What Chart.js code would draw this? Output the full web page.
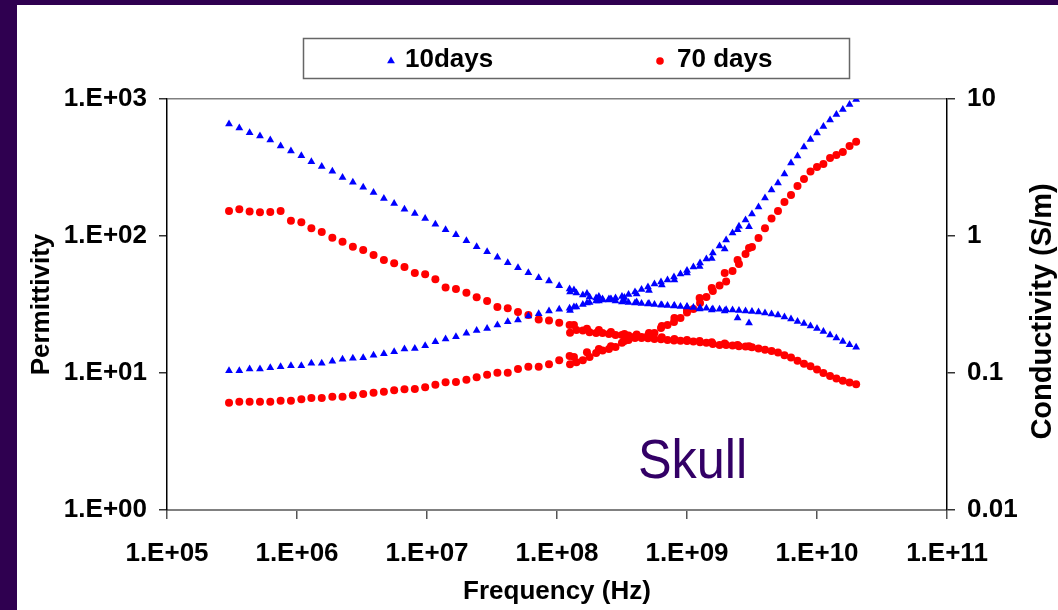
<!DOCTYPE html>
<html><head><meta charset="utf-8">
<script src="https://cdn.jsdelivr.net/npm/chart.js@4.4.0/dist/chart.umd.min.js"></script>
<style>html,body{margin:0;padding:0;background:#2f0050;overflow:hidden}#wrap{width:1058px;height:610px}</style>
</head><body><div id="wrap"><canvas id="c" width="1058" height="610"></canvas></div>
<script>
// ---- tick labels ----
const xTickValues = [1e5, 1e6, 1e7, 1e8, 1e9, 1e10, 1e11];
const xTickLabels = ['1.E+05', '1.E+06', '1.E+07', '1.E+08', '1.E+09', '1.E+10', '1.E+11'];
const permTickValues = [1, 10, 100, 1000];
const permTickLabels = ['1.E+00', '1.E+01', '1.E+02', '1.E+03'];
const condTickValues = [0.01, 0.1, 1, 10];
const condTickLabels = ['0.01', '0.1', '1', '10'];
const seriesNames = ['10days', '70 days'];

// ---- frequencies (Hz) ----
const freqLow = [3.0e5, 3.6e5, 4.32e5, 5.19e5, 6.23e5, 7.48e5, 8.98e5, 1.08e6, 1.29e6, 1.55e6, 1.87e6, 2.24e6,
  2.69e6, 3.23e6, 3.88e6, 4.66e6, 5.59e6, 6.71e6, 8.06e6, 9.68e6, 1.16e7, 1.39e7, 1.67e7, 2.01e7, 2.41e7,
  2.90e7, 3.48e7, 4.18e7, 5.01e7, 6.02e7, 7.23e7, 8.68e7, 1.04e8, 1.25e8];
const freqHigh = [1.26e8, 1.41e8, 1.58e8, 1.78e8, 2.0e8, 2.24e8, 2.51e8, 2.82e8, 3.16e8, 3.55e8, 3.98e8, 4.47e8,
  5.01e8, 5.62e8, 6.31e8, 7.08e8, 7.94e8, 8.91e8, 1.0e9, 1.12e9, 1.26e9, 1.41e9, 1.58e9, 1.78e9, 2.0e9, 2.24e9,
  2.51e9, 2.82e9, 3.16e9, 3.55e9, 3.98e9, 4.47e9, 5.01e9, 5.62e9, 6.31e9, 7.08e9, 7.94e9, 8.91e9, 1.0e10,
  1.12e10, 1.26e10, 1.41e10, 1.58e10, 1.78e10, 2.0e10];
const freqB = [1.35e8, 1.7e8, 2.1e8, 2.6e8, 3.3e8, 4.1e8, 5.1e8, 6.4e8, 8.0e8, 1.0e9, 1.25e9, 1.55e9, 1.95e9, 2.45e9, 3.0e9];

// ---- 10 days ----
const perm10Low = [657, 614, 568, 537, 502, 454, 417, 386, 349, 321, 297, 267, 247, 227, 208, 188, 173, 157, 146,
  134, 122, 111, 102, 92.4, 83.6, 76.8, 69.9, 63.8, 58.7, 54.0, 49.6, 46.9, 43.4, 41.0];
const perm10High = [39.0, 38.4, 37.1, 35.9, 35.3, 34.7, 34.1, 33.5, 33.0, 32.7, 32.4, 32.2, 31.9, 31.6, 31.4, 31.1,
  30.8, 30.6, 30.3, 30.1, 29.8, 29.7, 29.3, 29.2, 29.0, 28.8, 28.6, 28.4, 28.1, 27.9, 27.4, 27.0, 26.5, 25.6,
  24.8, 23.8, 23.0, 22.0, 21.1, 20.1, 18.9, 18.0, 17.0, 16.1, 15.4];
const perm10B = [40.3, 38.0, 36.2, 34.7, 33.5, 33.0, 32.2, 31.4, 31.1, 30.6, 29.3, 28.8, 28.4, 25.2, 23.2];
const cond10Low = [0.104, 0.104, 0.107, 0.107, 0.109, 0.111, 0.113, 0.113, 0.118, 0.118, 0.122, 0.126, 0.128,
  0.129, 0.135, 0.138, 0.143, 0.150, 0.151, 0.158, 0.169, 0.177, 0.184, 0.195, 0.204, 0.211, 0.224, 0.237,
  0.244, 0.261, 0.271, 0.284, 0.292, 0.297];
const cond10High = [0.286, 0.303, 0.316, 0.327, 0.335, 0.341, 0.347, 0.353, 0.362, 0.374, 0.390, 0.407, 0.424,
  0.446, 0.462, 0.477, 0.502, 0.528, 0.560, 0.594, 0.635, 0.679, 0.751, 0.846, 0.935, 1.05, 1.18, 1.31, 1.45,
  1.63, 1.89, 2.17, 2.44, 2.84, 3.41, 3.84, 4.46, 5.06, 5.65, 6.30, 7.03, 7.71, 8.38, 9.12, 9.91];
const cond10B = [0.303, 0.324, 0.335, 0.344, 0.356, 0.377, 0.400, 0.439, 0.477, 0.537, 0.599, 0.685, 0.804, 1.11, 1.17];

// ---- 70 days ----
const perm70Low = [152, 157, 151, 149, 150, 152, 129, 126, 114, 107, 97.2, 90.9, 83.6, 79.1, 72.6, 66.8, 63.2,
  59.4, 53.7, 52.5, 48.3, 42.0, 41.0, 38.6, 35.7, 33.5, 30.3, 29.7, 27.9, 26.5, 24.6, 24.2, 23.3, 22.4];
const perm70High = [19.7, 20.6, 20.4, 19.8, 19.6, 19.6, 19.3, 18.9, 18.9, 18.8, 18.5, 18.0, 17.9, 17.7, 17.6, 17.4,
  17.3, 17.2, 17.1, 17.0, 16.8, 16.6, 16.3, 16.0, 16.0, 15.9, 15.7, 15.6, 15.4, 15.1, 14.8, 14.5, 14.1, 13.5,
  13.0, 12.3, 11.7, 11.2, 10.6, 10.0, 9.51, 9.12, 8.79, 8.53, 8.27];
const perm70B = [22.4, 21.0, 20.6, 19.9, 19.3, 19.1, 18.6, 18.2, 17.7, 17.4, 17.1, 16.8, 16.4, 16.0, 15.7];
const cond70Low = [0.0607, 0.0618, 0.0618, 0.0618, 0.0618, 0.0628, 0.0628, 0.0643, 0.0657, 0.0657, 0.0671, 0.0671,
  0.0687, 0.0703, 0.0718, 0.0730, 0.0747, 0.0760, 0.0764, 0.0787, 0.0822, 0.0855, 0.0859, 0.0893, 0.0930,
  0.0972, 0.1005, 0.1005, 0.107, 0.111, 0.111, 0.116, 0.124, 0.133];
const cond70High = [0.116, 0.120, 0.124, 0.131, 0.140, 0.146, 0.150, 0.155, 0.166, 0.174, 0.180, 0.183, 0.188,
  0.196, 0.213, 0.224, 0.236, 0.252, 0.277, 0.293, 0.324, 0.359, 0.397, 0.435, 0.466, 0.556, 0.625, 0.739,
  0.831, 0.967, 1.14, 1.34, 1.52, 1.77, 1.99, 2.32, 2.61, 2.96, 3.19, 3.35, 3.71, 3.90, 4.10, 4.54, 4.88];
const cond70B = [0.131, 0.142, 0.150, 0.157, 0.171, 0.186, 0.196, 0.220, 0.252, 0.288, 0.353, 0.417, 0.537, 0.668, 0.817];

function pts(f, v) { return f.map((x, i) => ({ x: x, y: v[i] })); }
const BLUE = '#0000ff', RED = '#ff0000', PURPLE = '#2f0050';
const FONT = "'Liberation Sans', Arial, sans-serif";
Chart.defaults.font.family = FONT;

function ds(label, data, axis, color, style, r) {
  return { label: label, data: data, yAxisID: axis, pointStyle: style, pointRadius: r, pointHoverRadius: r,
    backgroundColor: color, borderColor: color, borderWidth: 0, showLine: false };
}
const datasets = [
  ds(seriesNames[0], pts(freqLow, perm10Low).concat(pts(freqHigh, perm10High), pts(freqB, perm10B)), 'y', BLUE, 'triangle', 4.5),
  ds(seriesNames[0], pts(freqLow, cond10Low).concat(pts(freqHigh, cond10High), pts(freqB, cond10B)), 'y2', BLUE, 'triangle', 4.5),
  ds(seriesNames[1], pts(freqLow, perm70Low).concat(pts(freqHigh, perm70High), pts(freqB, perm70B)), 'y', RED, 'circle', 4),
  ds(seriesNames[1], pts(freqLow, cond70Low).concat(pts(freqHigh, cond70High), pts(freqB, cond70B)), 'y2', RED, 'circle', 4)
];

const tickFont = { size: 26, weight: 'bold', family: FONT };

const decor = {
  id: 'decor',
  beforeDraw(chart) {
    const c = chart.ctx;
    c.save();
    c.fillStyle = PURPLE; c.fillRect(0, 0, chart.width, chart.height);
    c.fillStyle = '#ffffff'; c.fillRect(17, 5, chart.width - 17, chart.height - 5);
    c.restore();
  },
  afterDraw(chart) {
    const c = chart.ctx, a = chart.chartArea;
    c.save();
    // legend box
    c.strokeStyle = '#666'; c.lineWidth = 1.5;
    c.strokeRect(303.5, 38.5, 546, 40);
    const items = [{ d: datasets[0], mx: 391, tx: 405 }, { d: datasets[2], mx: 660, tx: 677 }];
    items.forEach(it => {
      c.fillStyle = it.d.backgroundColor;
      Chart.helpers.drawPoint(c, { pointStyle: it.d.pointStyle, radius: it.d.pointStyle === 'triangle' ? 4.5 : 3.8, rotation: 0, borderWidth: 0 }, it.mx, 61);
      c.fillStyle = '#000'; c.font = "bold 26px " + FONT; c.textBaseline = 'middle'; c.textAlign = 'left';
      c.fillText(it.d.label, it.tx, 60);
    });
    // right axis title (reads bottom to top)
    c.translate(1043, (a.top + a.bottom) / 2 + 7);
    c.rotate(-Math.PI / 2);
    c.textAlign = 'center'; c.textBaseline = 'middle'; c.fillStyle = '#000';
    c.font = "bold 29px " + FONT;
    c.fillText('Conductivity (S/m)', 0, 0);
    c.restore();
    // Skull label
    c.save();
    c.translate(638, 478);
    c.scale(0.9, 1);
    c.fillStyle = '#330066'; c.font = "56px " + FONT; c.textBaseline = 'alphabetic'; c.textAlign = 'left';
    c.fillText('Skull', 0, 0);
    c.restore();
  }
};

new Chart(document.getElementById('c'), {
  type: 'scatter',
  data: { datasets: datasets },
  options: {
    responsive: false, animation: false, devicePixelRatio: 1,
    layout: { padding: { left: 17, top: 99, right: 0, bottom: 0 } },
    plugins: { legend: { display: false }, tooltip: { enabled: false } },
    scales: {
      x: {
        type: 'logarithmic', position: 'bottom', min: xTickValues[0], max: xTickValues[xTickValues.length - 1],
        afterBuildTicks: s => { s.ticks = xTickValues.map(v => ({ value: v })); },
        afterFit: s => { s.height = 100; },
        ticks: { callback: (v, i) => xTickLabels[i], font: tickFont, color: '#000', padding: 19, autoSkip: false, maxRotation: 0 },
        grid: { drawOnChartArea: false, tickLength: 9, tickColor: '#555', lineWidth: 1.5 },
        border: { color: '#808080', width: 2 },
        title: { display: true, text: 'Frequency (Hz)', font: tickFont, color: '#000', padding: { top: 0, bottom: 3 } }
      },
      y: {
        type: 'logarithmic', position: 'left', min: permTickValues[0], max: permTickValues[permTickValues.length - 1],
        afterBuildTicks: s => { s.ticks = permTickValues.map(v => ({ value: v })); },
        afterFit: s => { s.width = 150; },
        ticks: { callback: (v, i) => permTickLabels[i], font: tickFont, color: '#000', padding: 12, autoSkip: false },
        grid: { color: ctx => (ctx.index === permTickValues.length - 1 ? '#808080' : 'rgba(0,0,0,0)'), tickColor: '#333', tickLength: 8, lineWidth: 1.5 },
        border: { color: '#000', width: 1.5 },
        title: { display: true, text: 'Permittivity', font: tickFont, color: '#000', padding: { top: 9, bottom: 0 } }
      },
      y2: {
        type: 'logarithmic', position: 'right', min: condTickValues[0], max: condTickValues[condTickValues.length - 1],
        afterBuildTicks: s => { s.ticks = condTickValues.map(v => ({ value: v })); },
        afterFit: s => { s.width = 111; },
        ticks: { callback: (v, i) => condTickLabels[i], font: tickFont, color: '#000', padding: 12, autoSkip: false },
        grid: { drawOnChartArea: false, tickColor: '#333', tickLength: 8, lineWidth: 1.5 },
        border: { color: '#000', width: 1.5 },
        title: { display: false }
      }
    }
  },
  plugins: [decor]
});
</script></body></html>
